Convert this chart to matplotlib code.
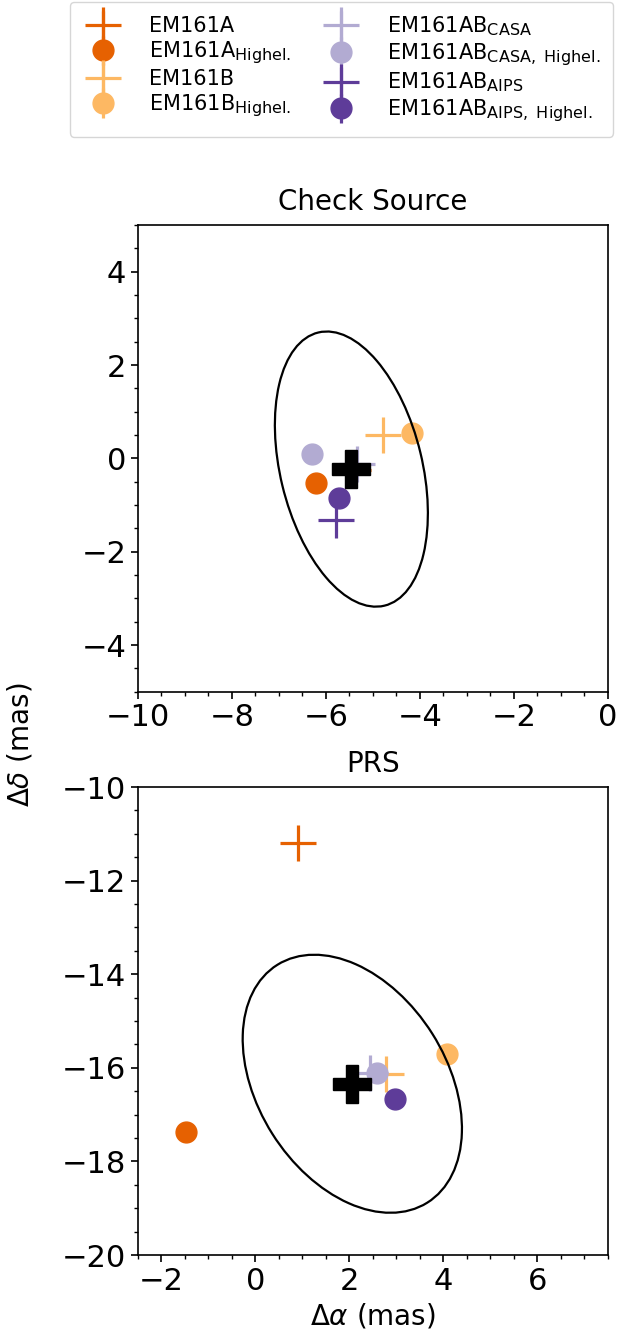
import matplotlib
matplotlib.use("Agg")
import matplotlib.pyplot as plt
from matplotlib.patches import Ellipse
from matplotlib.ticker import AutoMinorLocator
from matplotlib.container import ErrorbarContainer
from matplotlib.legend_handler import HandlerErrorbar

try:  # slightly larger sub-scripts, as in the reference
    import matplotlib._mathtext as _mt
    _mt.SHRINK_FACTOR = 0.77
except Exception:
    pass

# ---------------- data ----------------
labels = [r"EM161A", r"EM161A$_{\rm Highel.}$",
          r"EM161B", r"EM161B$_{\rm Highel.}$",
          r"EM161AB$_{\rm CASA}$", r"EM161AB$_{\rm CASA,\ Highel.}$",
          r"EM161AB$_{\rm AIPS}$", r"EM161AB$_{\rm AIPS,\ Highel.}$"]
colors = ["#e66101", "#e66101", "#fdb863", "#fdb863",
          "#b2abd2", "#b2abd2", "#5e3c99", "#5e3c99"]
markers = ["+", "o", "+", "o", "+", "o", "+", "o"]

# Check source offsets (mas)
check_ra = [-5.43, -6.22, -4.78, -4.16, -5.34, -6.29, -5.79, -5.73]
check_dec = [-0.25, -0.52, 0.50, 0.55, -0.12, 0.10, -1.32, -0.85]
check_mean = (-5.46, -0.23)
check_ell = (3.02, 6.02, 13.5)   # width, height, angle (deg)

# PRS offsets (mas)
prs_ra = [0.90, -1.48, 2.77, 4.07, 2.44, 2.59, 2.05, 2.97]
prs_dec = [-11.20, -17.37, -16.13, -15.71, -16.11, -16.12, -16.33, -16.66]
prs_mean = (2.06, -16.34)
prs_ell = (4.02, 6.00, 32.1)

# ---------------- figure ----------------
fig = plt.figure(figsize=(6.18, 13.41), dpi=100)
ax1 = fig.add_axes([0.2233, 0.4842, 0.7605, 0.3480])
ax2 = fig.add_axes([0.2233, 0.0641, 0.7605, 0.3490])

handles = []
for ax, xs, ys, mean, ell, title, xlim, ylim in [
        (ax1, check_ra, check_dec, check_mean, check_ell, "Check Source", (-10, 0), (-5, 5)),
        (ax2, prs_ra, prs_dec, prs_mean, prs_ell, "PRS", (-2.5, 7.5), (-20, -10))]:
    hs = []
    for x, y, c, m, lab in zip(xs, ys, colors, markers, labels):
        if m == "+":
            h = ax.errorbar([x], [y], yerr=[0], fmt="+", color=c, ms=26, mew=2.3,
                            elinewidth=2.3, label=lab)
        else:
            h = ax.errorbar([x], [y], yerr=[0], fmt="o", color=c, ms=15,
                            elinewidth=2.3, label=lab)
        hs.append(h)
    ax.plot([mean[0]], [mean[1]], marker="P", color="black", ms=27, ls="none", zorder=5)
    e = Ellipse(mean, width=ell[0], height=ell[1], angle=ell[2], fill=False,
                edgecolor="black", lw=1.6, zorder=4)
    ax.add_patch(e)
    ax.set_xlim(*xlim)
    ax.set_ylim(*ylim)
    ax.set_title(title, fontsize=20, pad=11)
    ax.xaxis.set_minor_locator(AutoMinorLocator(4))
    ax.yaxis.set_minor_locator(AutoMinorLocator(4))
    ax.tick_params(which="major", labelsize=22, length=5, width=1.2)
    ax.tick_params(which="minor", length=3, width=1.0)
    for s in ax.spines.values():
        s.set_linewidth(1.2)
    if not handles:
        handles = hs

ax2.set_xlabel(r"$\Delta\alpha$ (mas)", fontsize=20)
fig.text(20 / 618, 1 - 745 / 1341, r"$\Delta\delta$ (mas)", rotation=90,
         ha="center", va="center", fontsize=20)

fig.legend(handles=handles, labels=labels, ncol=2, loc="upper left",
           bbox_to_anchor=(70 / 618, 1 - 2 / 1341), fontsize=15,
           handletextpad=1.2, columnspacing=1.4, labelspacing=0.15,
           borderpad=0.6, borderaxespad=0.0,
           handler_map={ErrorbarContainer: HandlerErrorbar(xerr_size=0.5, yerr_size=0.7)})

fig.savefig("out.png", dpi=100)
